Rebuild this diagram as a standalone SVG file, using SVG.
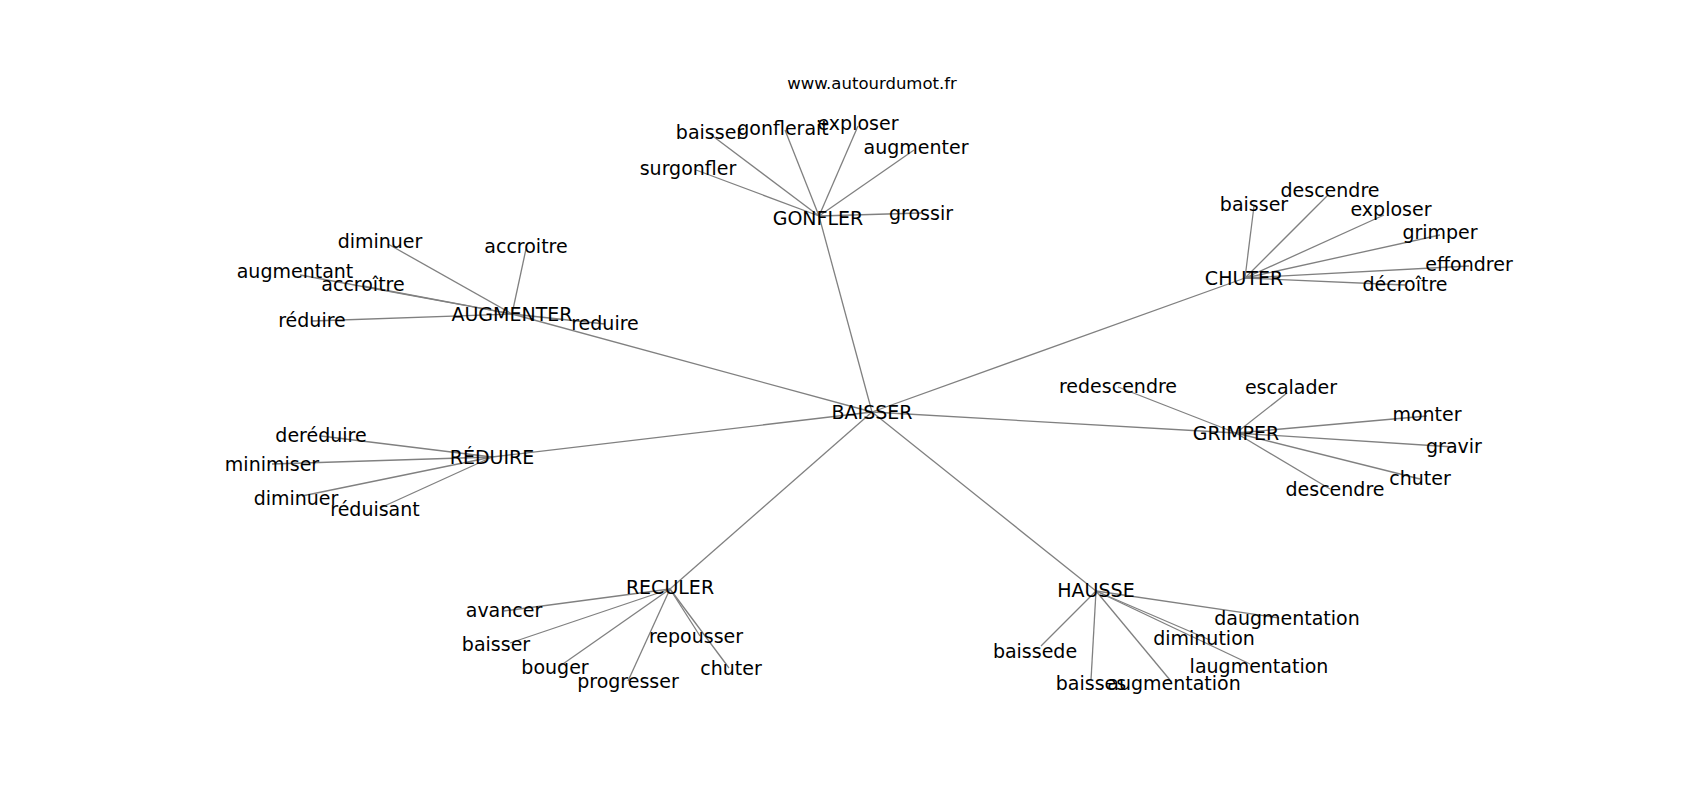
<svg xmlns="http://www.w3.org/2000/svg" width="1700" height="800" viewBox="0 0 1700 800">
<style>
text{font-family:"DejaVu Sans",sans-serif;fill:#000;text-anchor:middle}
.n text{font-size:19px}
.t{font-size:16.5px}
#edges line{stroke:#808080;stroke-width:1.3}
</style>
<rect width="1700" height="800" fill="#fff"/>
<text class="t" x="872" y="89">www.autourdumot.fr</text>
<g id="edges">
<line x1="872" y1="412" x2="819" y2="216"/>
<line x1="872" y1="412" x2="1245" y2="278"/>
<line x1="872" y1="412" x2="512" y2="314"/>
<line x1="872" y1="412" x2="492" y2="457"/>
<line x1="872" y1="412" x2="1236" y2="433"/>
<line x1="872" y1="412" x2="670" y2="589"/>
<line x1="872" y1="412" x2="1096" y2="591"/>
<line x1="819" y1="216" x2="710" y2="134"/>
<line x1="819" y1="216" x2="785" y2="130"/>
<line x1="819" y1="216" x2="858" y2="126"/>
<line x1="819" y1="216" x2="914" y2="150"/>
<line x1="819" y1="216" x2="696" y2="170"/>
<line x1="819" y1="216" x2="921" y2="213"/>
<line x1="1245" y1="278" x2="1254" y2="206"/>
<line x1="1245" y1="278" x2="1328" y2="195"/>
<line x1="1245" y1="278" x2="1384" y2="215"/>
<line x1="1245" y1="278" x2="1440" y2="235"/>
<line x1="1245" y1="278" x2="1469" y2="266"/>
<line x1="1245" y1="278" x2="1405" y2="285"/>
<line x1="512" y1="314" x2="388" y2="244"/>
<line x1="512" y1="314" x2="526" y2="249"/>
<line x1="512" y1="314" x2="300" y2="275"/>
<line x1="512" y1="314" x2="363" y2="286"/>
<line x1="512" y1="314" x2="312" y2="321"/>
<line x1="512" y1="314" x2="605" y2="324"/>
<line x1="492" y1="457" x2="321" y2="436"/>
<line x1="492" y1="457" x2="272" y2="464"/>
<line x1="492" y1="457" x2="302" y2="496"/>
<line x1="492" y1="457" x2="380" y2="508"/>
<line x1="1236" y1="433" x2="1118" y2="387"/>
<line x1="1236" y1="433" x2="1287" y2="393"/>
<line x1="1236" y1="433" x2="1427" y2="416"/>
<line x1="1236" y1="433" x2="1454" y2="447"/>
<line x1="1236" y1="433" x2="1420" y2="479"/>
<line x1="1236" y1="433" x2="1330" y2="489"/>
<line x1="670" y1="589" x2="504" y2="611"/>
<line x1="670" y1="589" x2="510" y2="643"/>
<line x1="670" y1="589" x2="560" y2="666"/>
<line x1="670" y1="589" x2="628" y2="681"/>
<line x1="670" y1="589" x2="700" y2="636"/>
<line x1="670" y1="589" x2="729" y2="668"/>
<line x1="1096" y1="591" x2="1279" y2="618"/>
<line x1="1096" y1="591" x2="1210" y2="640"/>
<line x1="1096" y1="591" x2="1250" y2="664"/>
<line x1="1096" y1="591" x2="1041" y2="646"/>
<line x1="1096" y1="591" x2="1091" y2="680"/>
<line x1="1096" y1="591" x2="1170" y2="680"/>
</g>
<g class="n">
<g id="n-baisser"><text x="872" y="419">BAISSER</text></g>
<g id="n-gonfler"><text x="818" y="225">GONFLER</text></g>
<g id="n-g-baisser"><text x="710" y="139">baisser</text></g>
<g id="n-g-gonflerait"><text x="783" y="135">gonflerait</text></g>
<g id="n-g-exploser"><text x="858" y="130">exploser</text></g>
<g id="n-g-augmenter"><text x="916" y="154">augmenter</text></g>
<g id="n-g-surgonfler"><text x="688" y="175">surgonfler</text></g>
<g id="n-g-grossir"><text x="921" y="220">grossir</text></g>
<g id="n-chuter"><text x="1244" y="285">CHUTER</text></g>
<g id="n-c-baisser"><text x="1254" y="211">baisser</text></g>
<g id="n-c-descendre"><text x="1330" y="197">descendre</text></g>
<g id="n-c-exploser"><text x="1391" y="216">exploser</text></g>
<g id="n-c-grimper"><text x="1440" y="239">grimper</text></g>
<g id="n-c-effondrer"><text x="1469" y="271">effondrer</text></g>
<g id="n-c-decroitre"><text x="1405" y="291">décroître</text></g>
<g id="n-augmenter"><text x="512" y="321">AUGMENTER</text></g>
<g id="n-a-diminuer"><text x="380" y="248">diminuer</text></g>
<g id="n-a-accroitre"><text x="526" y="253">accroitre</text></g>
<g id="n-a-augmentant"><text x="295" y="278">augmentant</text></g>
<g id="n-a-accroitre2"><text x="363" y="291">accroître</text></g>
<g id="n-a-reduire"><text x="312" y="327">réduire</text></g>
<g id="n-a-reduire2"><text x="605" y="330">reduire</text></g>
<g id="n-reduire"><text x="492" y="464">RÉDUIRE</text></g>
<g id="n-r-dereduire"><text x="321" y="442">deréduire</text></g>
<g id="n-r-minimiser"><text x="272" y="471">minimiser</text></g>
<g id="n-r-diminuer"><text x="296" y="505">diminuer</text></g>
<g id="n-r-reduisant"><text x="375" y="516">réduisant</text></g>
<g id="n-grimper"><text x="1236" y="440">GRIMPER</text></g>
<g id="n-gr-redescendre"><text x="1118" y="393">redescendre</text></g>
<g id="n-gr-escalader"><text x="1291" y="394">escalader</text></g>
<g id="n-gr-monter"><text x="1427" y="421">monter</text></g>
<g id="n-gr-gravir"><text x="1454" y="453">gravir</text></g>
<g id="n-gr-chuter"><text x="1420" y="485">chuter</text></g>
<g id="n-gr-descendre"><text x="1335" y="496">descendre</text></g>
<g id="n-reculer"><text x="670" y="594">RECULER</text></g>
<g id="n-re-avancer"><text x="504" y="617">avancer</text></g>
<g id="n-re-baisser"><text x="496" y="651">baisser</text></g>
<g id="n-re-bouger"><text x="555" y="674">bouger</text></g>
<g id="n-re-progresser"><text x="628" y="688">progresser</text></g>
<g id="n-re-repousser"><text x="696" y="643">repousser</text></g>
<g id="n-re-chuter"><text x="731" y="675">chuter</text></g>
<g id="n-hausse"><text x="1096" y="597">HAUSSE</text></g>
<g id="n-h-daugmentation"><text x="1287" y="625">daugmentation</text></g>
<g id="n-h-diminution"><text x="1204" y="645">diminution</text></g>
<g id="n-h-laugmentation"><text x="1259" y="673">laugmentation</text></g>
<g id="n-h-baissede"><text x="1035" y="658">baissede</text></g>
<g id="n-h-baisses"><text x="1091" y="690">baisses</text></g>
<g id="n-h-augmentation"><text x="1174" y="690">augmentation</text></g>
</g>
</svg>
